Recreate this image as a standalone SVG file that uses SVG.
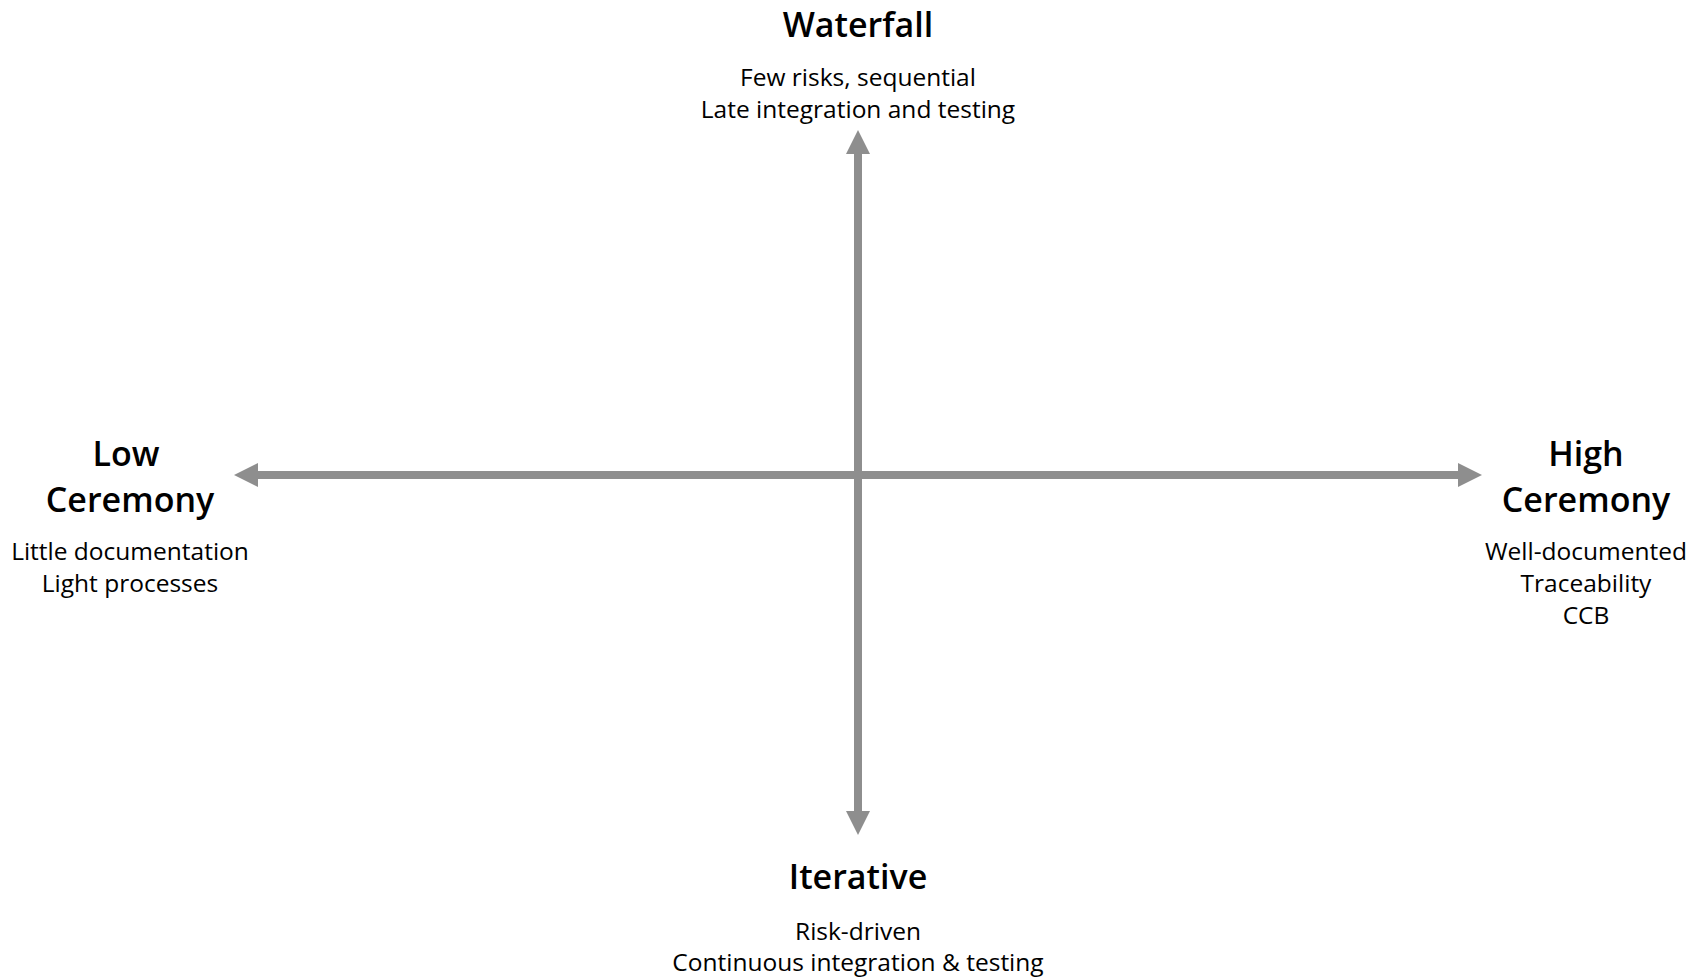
<svg xmlns="http://www.w3.org/2000/svg" width="1706" height="979" viewBox="0 0 1706 979">
<style>
.title{font-family:"Open Sans",Lato,sans-serif;font-size:34px;font-weight:600;fill:#000;text-anchor:middle}
.sub{font-family:"Open Sans",Lato,sans-serif;font-size:24.5px;fill:#000;text-anchor:middle}
.axis{stroke:#8e8e8e;stroke-width:8;fill:none}
</style>
<defs>
<marker id="ah" markerUnits="userSpaceOnUse" markerWidth="24" markerHeight="24" viewBox="0 0 24 24" refX="0" refY="12" orient="auto-start-reverse">
<path d="M0,0 L24,12 L0,24 Z" fill="#8e8e8e"/>
</marker>
</defs>
<rect width="1706" height="979" fill="#fff"/>
<g id="connectors">
<line class="axis" x1="258" y1="475" x2="1458" y2="475" marker-start="url(#ah)" marker-end="url(#ah)"/>
<line class="axis" x1="858" y1="154" x2="858" y2="811" marker-start="url(#ah)" marker-end="url(#ah)"/>
</g>
<g id="waterfall">
<text class="title" x="858" y="37">Waterfall</text>
<text class="sub" x="858" y="86">Few risks, sequential</text>
<text class="sub" x="858" y="118">Late integration and testing</text>
</g>
<g id="low-ceremony">
<text class="title" x="126" y="466">Low</text>
<text class="title" x="130" y="512">Ceremony</text>
<text class="sub" x="130" y="560">Little documentation</text>
<text class="sub" x="130" y="592">Light processes</text>
</g>
<g id="high-ceremony">
<text class="title" x="1586" y="466">High</text>
<text class="title" x="1586" y="512">Ceremony</text>
<text class="sub" x="1586" y="560">Well-documented</text>
<text class="sub" x="1586" y="592">Traceability</text>
<text class="sub" x="1586" y="624">CCB</text>
</g>
<g id="iterative">
<text class="title" x="858" y="889">Iterative</text>
<text class="sub" x="858" y="940">Risk-driven</text>
<text class="sub" x="858" y="971">Continuous integration &amp; testing</text>
</g>
</svg>
